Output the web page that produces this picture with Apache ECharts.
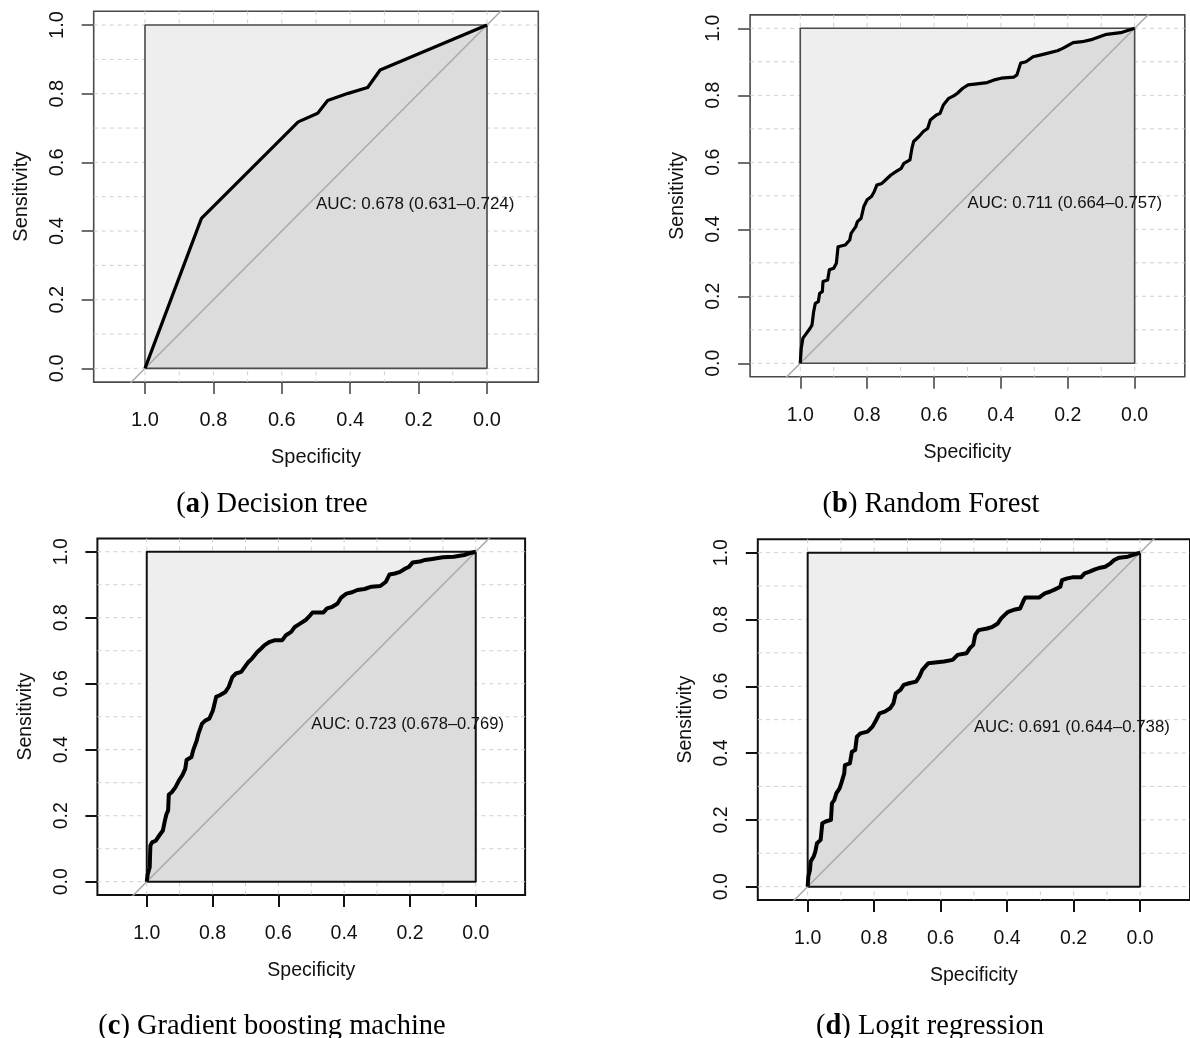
<!DOCTYPE html>
<html>
<head>
<meta charset="utf-8">
<script src="https://cdn.jsdelivr.net/npm/echarts@6/dist/echarts.min.js"></script>
<style>
html, body { margin: 0; padding: 0; background: #fff; }
#main { width: 1190px; height: 1038px; }
</style>
</head>
<body>
<div id="main"></div>
<script>
// ROC curves, points are [specificity, sensitivity]
const treeRoc = [
  [1.000, 0.000], [0.835, 0.437], [0.552, 0.718], [0.495, 0.743], [0.466, 0.780],
  [0.406, 0.801], [0.349, 0.818], [0.3125, 0.869], [0.000, 1.000]
];
const forestRoc = [
  [1.000, 0.000], [0.997, 0.045], [0.992, 0.075], [0.981, 0.090], [0.971, 0.104], [0.965, 0.114],
  [0.960, 0.154], [0.955, 0.179], [0.946, 0.184], [0.942, 0.209], [0.934, 0.214], [0.932, 0.244],
  [0.918, 0.249], [0.913, 0.279], [0.900, 0.284], [0.892, 0.299], [0.887, 0.348], [0.866, 0.353],
  [0.852, 0.368], [0.848, 0.388], [0.834, 0.408], [0.829, 0.423], [0.818, 0.433], [0.810, 0.468],
  [0.800, 0.488], [0.787, 0.498], [0.779, 0.512], [0.771, 0.532], [0.756, 0.537], [0.745, 0.547],
  [0.729, 0.562], [0.714, 0.572], [0.698, 0.582], [0.690, 0.597], [0.672, 0.607], [0.666, 0.642],
  [0.661, 0.662], [0.645, 0.677], [0.632, 0.692], [0.619, 0.701], [0.611, 0.726], [0.593, 0.741],
  [0.582, 0.746], [0.572, 0.771], [0.556, 0.791], [0.540, 0.799], [0.530, 0.806], [0.514, 0.821],
  [0.498, 0.831], [0.472, 0.834], [0.441, 0.838], [0.420, 0.846], [0.399, 0.851], [0.362, 0.854],
  [0.352, 0.861], [0.341, 0.896], [0.325, 0.900], [0.304, 0.915], [0.283, 0.920], [0.262, 0.925],
  [0.231, 0.933], [0.215, 0.940], [0.184, 0.957], [0.157, 0.960], [0.126, 0.967], [0.084, 0.982],
  [0.042, 0.987], [0.000, 1.000]
];
const gbmRoc = [
  [1.000, 0.000], [0.997, 0.023], [0.991, 0.044], [0.989, 0.109], [0.984, 0.119], [0.973, 0.124],
  [0.962, 0.140], [0.951, 0.155], [0.946, 0.180], [0.940, 0.205], [0.935, 0.216], [0.933, 0.264],
  [0.924, 0.271], [0.913, 0.286], [0.902, 0.307], [0.892, 0.322], [0.883, 0.342], [0.879, 0.369],
  [0.864, 0.378], [0.859, 0.398], [0.848, 0.428], [0.843, 0.448], [0.832, 0.479], [0.821, 0.489],
  [0.810, 0.494], [0.799, 0.519], [0.794, 0.539], [0.789, 0.560], [0.778, 0.565], [0.761, 0.575],
  [0.751, 0.590], [0.740, 0.620], [0.729, 0.631], [0.713, 0.636], [0.702, 0.651], [0.691, 0.666],
  [0.680, 0.676], [0.664, 0.696], [0.653, 0.706], [0.642, 0.717], [0.626, 0.727], [0.610, 0.732],
  [0.588, 0.732], [0.577, 0.747], [0.561, 0.757], [0.550, 0.772], [0.534, 0.782], [0.517, 0.793],
  [0.507, 0.803], [0.496, 0.816], [0.463, 0.816], [0.452, 0.828], [0.436, 0.833], [0.420, 0.843],
  [0.409, 0.861], [0.393, 0.873], [0.376, 0.877], [0.360, 0.884], [0.338, 0.887], [0.317, 0.894],
  [0.290, 0.896], [0.273, 0.909], [0.262, 0.931], [0.246, 0.934], [0.230, 0.939], [0.214, 0.949],
  [0.203, 0.954], [0.192, 0.967], [0.170, 0.970], [0.154, 0.975], [0.132, 0.978], [0.100, 0.983],
  [0.067, 0.985], [0.035, 0.990], [0.013, 0.997], [0.000, 1.000]
];
const logitRoc = [
  [1.000, 0.000], [0.998, 0.030], [0.993, 0.050], [0.991, 0.075], [0.982, 0.090], [0.977, 0.105],
  [0.972, 0.130], [0.961, 0.140], [0.956, 0.190], [0.946, 0.195], [0.930, 0.200], [0.927, 0.250],
  [0.920, 0.259], [0.914, 0.279], [0.904, 0.294], [0.899, 0.309], [0.890, 0.339], [0.888, 0.364],
  [0.873, 0.369], [0.867, 0.404], [0.857, 0.409], [0.852, 0.449], [0.841, 0.459], [0.820, 0.464],
  [0.805, 0.479], [0.794, 0.499], [0.784, 0.519], [0.768, 0.524], [0.752, 0.534], [0.742, 0.549],
  [0.735, 0.579], [0.721, 0.589], [0.711, 0.604], [0.695, 0.609], [0.674, 0.614], [0.664, 0.629],
  [0.655, 0.649], [0.637, 0.669], [0.617, 0.671], [0.590, 0.674], [0.564, 0.679], [0.549, 0.694],
  [0.522, 0.699], [0.512, 0.714], [0.502, 0.724], [0.496, 0.754], [0.486, 0.768], [0.460, 0.773],
  [0.444, 0.778], [0.428, 0.788], [0.418, 0.803], [0.408, 0.813], [0.397, 0.823], [0.392, 0.828],
  [0.376, 0.830], [0.361, 0.833], [0.350, 0.858], [0.345, 0.866], [0.303, 0.866], [0.287, 0.878],
  [0.272, 0.883], [0.256, 0.890], [0.240, 0.898], [0.235, 0.918], [0.219, 0.923], [0.204, 0.926],
  [0.178, 0.926], [0.167, 0.938], [0.152, 0.943], [0.136, 0.950], [0.120, 0.955], [0.105, 0.958],
  [0.089, 0.968], [0.078, 0.978], [0.063, 0.985], [0.037, 0.988], [0.016, 0.995], [0.000, 1.000]
];

const aucTexts = [
  'AUC: 0.678 (0.631–0.724)',
  'AUC: 0.711 (0.664–0.757)',
  'AUC: 0.723 (0.678–0.769)',
  'AUC: 0.691 (0.644–0.738)'
];
const panelLetters = ['a', 'b', 'c', 'd'];
const panelNames = ['Decision tree', 'Random Forest', 'Gradient boosting machine', 'Logit regression'];
const tickValues = [0, 0.2, 0.4, 0.6, 0.8, 1.0];
const gridValues = [0, 0.1, 0.2, 0.3, 0.4, 0.5, 0.6, 0.7, 0.8, 0.9, 1.0];
const perfectTop = [[1, 1], [0, 1]];
const boxOutline = [[1, 0], [1, 1], [0, 1], [0, 0], [1, 0]];
const chanceLine = [[1.2, -0.2], [-0.2, 1.2]];
const aucAt = [0.5, 0.5];
const rocs = [treeRoc, forestRoc, gbmRoc, logitRoc];

// placement of each panel (outer plot box) and its look
const panels = [
  { left: 93.7, top: 11.3, width: 444.6, height: 370.8, font: 20, aucFont: 17, box: '#4a4a4a', boxW: 1.6, curveW: 3.2, titleX: 272, titleY: 504.5 },
  { left: 750.1, top: 14.9, width: 434.7, height: 361.8, font: 19.5, aucFont: 16.8, box: '#4a4a4a', boxW: 1.6, curveW: 3.2, titleX: 931, titleY: 504.5 },
  { left: 97.4, top: 538.5, width: 427.7, height: 356.4, font: 19.5, aucFont: 16.5, box: '#111', boxW: 2, curveW: 4, titleX: 272, titleY: 1026.5 },
  { left: 757.8, top: 539.3, width: 435.5, height: 360.7, font: 19.5, aucFont: 16.8, box: '#111', boxW: 2, curveW: 4, titleX: 930, titleY: 1026.5 }
];

const sans = '"Liberation Sans", Arial, Helvetica, sans-serif';
const serif = '"Liberation Serif", "Times New Roman", serif';
const ink = '#111';

const chart = echarts.init(document.getElementById('main'));
const option = { animation: false, grid: [], xAxis: [], yAxis: [], series: [], graphic: [] };

panels.forEach((p, i) => {
  option.grid.push({
    left: p.left, top: p.top, width: p.width, height: p.height,
    show: true, borderColor: p.box, borderWidth: p.boxW, backgroundColor: 'transparent'
  });
  const tick = { show: true, inside: false, length: 12, customValues: tickValues, lineStyle: { color: p.box, width: p.boxW } };
  const label = { customValues: tickValues, formatter: (v) => v.toFixed(1), color: ink, fontFamily: sans, fontSize: p.font };
  const nameStyle = { color: ink, fontFamily: sans, fontSize: p.font };
  option.xAxis.push({
    type: 'value', gridIndex: i, min: -0.15, max: 1.15, inverse: true, position: 'bottom',
    axisLine: { show: false, onZero: false }, axisTick: tick, axisLabel: { ...label, margin: 28.5 }, splitLine: { show: false },
    name: 'Specificity', nameLocation: 'middle', nameGap: 65.5, nameTextStyle: nameStyle
  });
  option.yAxis.push({
    type: 'value', gridIndex: i, min: -0.04, max: 1.04, position: 'left',
    axisLine: { show: false, onZero: false }, axisTick: tick, axisLabel: { ...label, rotate: 90, margin: 26 }, splitLine: { show: false },
    name: 'Sensitivity', nameLocation: 'middle', nameGap: 62, nameTextStyle: nameStyle
  });

  const ax = { xAxisIndex: i, yAxisIndex: i, silent: true };
  // dotted grid at 0.1 steps, spanning the whole plot region
  option.series.push({
    ...ax, type: 'custom', z: 1, data: gridValues.map(v => [v, v]),
    renderItem: (params, api) => {
      const cs = params.coordSys;
      const pt = api.coord([api.value(0), api.value(1)]);
      const st = () => ({ stroke: '#d0d0d0', lineWidth: 1, lineDash: [4, 4] });
      return {
        type: 'group', children: [
          { type: 'line', shape: { x1: pt[0], y1: cs.y, x2: pt[0], y2: cs.y + cs.height }, style: st() },
          { type: 'line', shape: { x1: cs.x, y1: pt[1], x2: cs.x + cs.width, y2: pt[1] }, style: st() }
        ]
      };
    }
  });
  // max AUC polygon
  option.series.push({
    ...ax, type: 'line', z: 2, data: perfectTop, symbol: 'none',
    lineStyle: { width: 0, opacity: 0 }, areaStyle: { color: '#eeeeee', opacity: 1 }
  });
  // AUC polygon
  option.series.push({
    ...ax, type: 'line', z: 3, data: rocs[i], symbol: 'none',
    lineStyle: { width: 0, opacity: 0 }, areaStyle: { color: '#dcdcdc', opacity: 1 }
  });
  option.series.push({
    ...ax, type: 'line', z: 4, data: boxOutline, symbol: 'none',
    lineStyle: { color: p.box, width: p.boxW }
  });
  option.series.push({
    ...ax, type: 'line', z: 5, data: chanceLine, symbol: 'none', clip: true,
    lineStyle: { color: '#aaaaaa', width: 1.5 }
  });
  option.series.push({
    ...ax, type: 'line', z: 6, data: rocs[i], symbol: 'none',
    lineStyle: { color: '#000', width: p.curveW, join: 'round' }
  });
  option.series.push({
    ...ax, type: 'custom', z: 7, data: [aucAt],
    renderItem: (params, api) => {
      const pt = api.coord([api.value(0), api.value(1)]);
      return {
        type: 'text', x: pt[0], y: pt[1] - 1,
        style: { text: aucTexts[i], fill: ink, fontFamily: sans, fontSize: p.aucFont, align: 'left', verticalAlign: 'top' }
      };
    }
  });

  option.graphic.push({
    type: 'text', x: p.titleX, y: p.titleY,
    style: {
      text: '({b|' + panelLetters[i] + '}) ' + panelNames[i],
      fill: '#000', fontFamily: serif, fontSize: 28.5, align: 'center', verticalAlign: 'middle',
      rich: { b: { fontWeight: 'bold', fontFamily: serif, fontSize: 28.5, fill: '#000' } }
    }
  });
});

chart.setOption(option);
</script>
</body>
</html>
